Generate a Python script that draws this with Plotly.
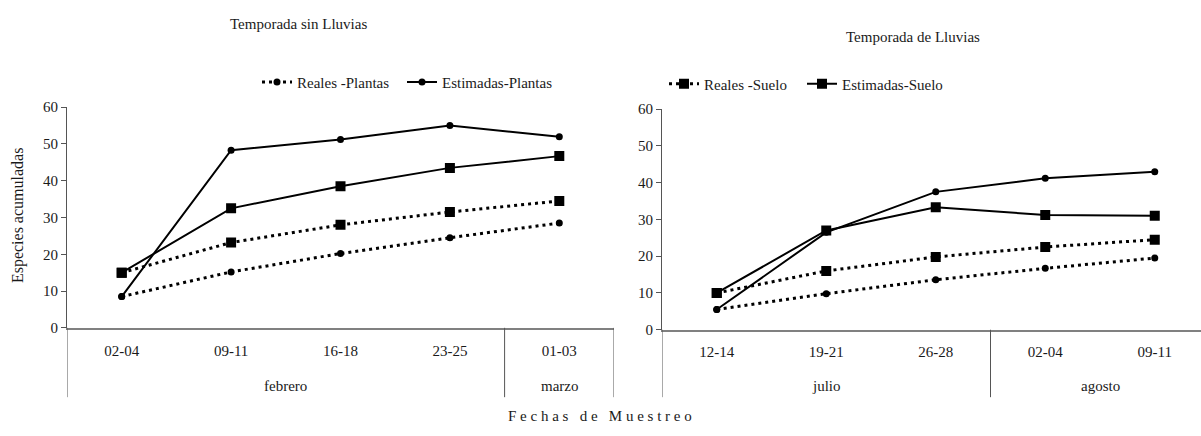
import plotly.graph_objects as go

# ---- data ----
cats_seca = ["02-04", "09-11", "16-18", "23-25", "01-03"]
months_seca = ["febrero", "marzo"]
month_span_seca = [(0, 3), (4, 4)]
cats_lluvia = ["12-14", "19-21", "26-28", "02-04", "09-11"]
months_lluvia = ["julio", "agosto"]
month_span_lluvia = [(0, 2), (3, 4)]

seca_reales_plantas = [8.5, 15.2, 20.2, 24.5, 28.5]
seca_estimadas_plantas = [8.5, 48.3, 51.2, 55.0, 52.0]
seca_reales_suelo = [15.0, 23.2, 28.0, 31.5, 34.5]
seca_estimadas_suelo = [15.0, 32.5, 38.5, 43.5, 46.7]

lluvia_reales_plantas = [5.5, 9.8, 13.6, 16.7, 19.5]
lluvia_estimadas_plantas = [5.5, 26.5, 37.5, 41.2, 43.0]
lluvia_reales_suelo = [10.0, 16.0, 19.8, 22.5, 24.5]
lluvia_estimadas_suelo = [10.0, 27.0, 33.3, 31.2, 31.0]

y_ticks = [0, 10, 20, 30, 40, 50, 60]

W, H = 1201, 436
def py(pix):
    return (H - pix) / H
def px(pix):
    return pix / W

FONT = "Liberation Serif, Times New Roman, serif"
TXT = "#1a1a1a"
fig = go.Figure()

def add_panel(xa, ya, rp, ep, rs, es, legs, show_plantas):
    xs = list(range(5))
    specs = [("Reales -Plantas", rp, "3px,4px", 3, "circle", 7, show_plantas),
             ("Estimadas-Plantas", ep, "solid", 2, "circle", 7, show_plantas),
             ("Reales -Suelo", rs, "3px,4px", 3, "square", 10, not show_plantas),
             ("Estimadas-Suelo", es, "solid", 2, "square", 10, not show_plantas)]
    li = 0
    for name, ys, dash, lw, sym, ms, show in specs:
        leg = legs[li] if show else "legend"
        if show:
            li += 1
        fig.add_trace(go.Scatter(x=xs, y=ys, mode="lines+markers", name=name,
                                 line=dict(color="black", width=lw, dash=dash),
                                 marker=dict(symbol=sym, size=ms, color="black"),
                                 xaxis=xa, yaxis=ya, legend=leg, showlegend=show))

add_panel("x", "y", seca_reales_plantas, seca_estimadas_plantas,
          seca_reales_suelo, seca_estimadas_suelo, ["legend", "legend2"], True)
add_panel("x2", "y2", lluvia_reales_plantas, lluvia_estimadas_plantas,
          lluvia_reales_suelo, lluvia_estimadas_suelo, ["legend3", "legend4"], False)

dom1_y = [py(332), py(103)]
dom2_y = [py(334), py(105)]
tickfont = dict(family=FONT, size=15, color=TXT)

common_x = dict(showgrid=False, zeroline=False, showline=True, linecolor="#808080",
                linewidth=1.5, ticks="", tickfont=tickfont, fixedrange=True,
                ticklabelstandoff=8)
common_y = dict(showgrid=False, zeroline=False, showline=True, linecolor="#555",
                linewidth=1, ticks="outside", ticklen=5, tickcolor="#555",
                tickvals=y_ticks, range=[0, 60], tickfont=tickfont, fixedrange=True)

def leg(xpix, ypix):
    return dict(orientation="h", x=px(xpix), y=py(ypix), xanchor="left", yanchor="middle",
                font=dict(family=FONT, size=15, color=TXT), bgcolor="rgba(0,0,0,0)",
                itemwidth=30)

fig.update_layout(
    width=W, height=H, margin=dict(l=0, r=0, t=0, b=0),
    plot_bgcolor="white", paper_bgcolor="white",
    xaxis=dict(domain=[px(67), px(614)], range=[-0.5, 4.5], tickvals=list(range(5)),
               ticktext=cats_seca, anchor="y", **common_x),
    yaxis=dict(domain=dom1_y, anchor="x", **common_y),
    xaxis2=dict(domain=[px(662), 1.0], range=[-0.5, -0.5 + (W - 662) / 109.5],
                tickvals=list(range(5)), ticktext=cats_lluvia, anchor="y2", **common_x),
    yaxis2=dict(domain=dom2_y, anchor="x2", **common_y),
    legend=leg(257, 77), legend2=leg(402, 77), legend3=leg(664, 79), legend4=leg(802, 79),
    showlegend=True,
)

annotations = [
    dict(text="Temporada sin Lluvias", x=px(298), y=py(17), xref="paper", yref="paper",
         xanchor="center", yanchor="middle",
         showarrow=False, font=dict(family=FONT, size=15, color=TXT)),
    dict(text="Temporada de Lluvias", x=px(913), y=py(30), xref="paper", yref="paper",
         xanchor="center", yanchor="middle",
         showarrow=False, font=dict(family=FONT, size=15, color=TXT)),
    dict(text="Especies acumuladas", x=px(18), y=py(215), xref="paper", yref="paper",
         xanchor="center", yanchor="middle",
         textangle=-90, showarrow=False, font=dict(family=FONT, size=16, color=TXT)),
    dict(text="F e c h a s &nbsp; d e &nbsp; M u e s t r e o", x=px(600), y=py(424),
         xref="paper", yref="paper", xanchor="center", yanchor="middle", showarrow=False,
         font=dict(family=FONT, size=15, color=TXT)),
]
for name, (a, b) in zip(months_seca, month_span_seca):
    annotations.append(dict(text=name, x=(a + b) / 2, xref="x", y=py(392), yref="paper",
                            xanchor="center", yanchor="middle",
                            showarrow=False, font=dict(family=FONT, size=15, color=TXT)))
for name, (a, b) in zip(months_lluvia, month_span_lluvia):
    annotations.append(dict(text=name, x=(a + b) / 2, xref="x2", y=py(392), yref="paper",
                            xanchor="center", yanchor="middle",
                            showarrow=False, font=dict(family=FONT, size=15, color=TXT)))
fig.update_layout(annotations=annotations)

shapes = []
bottom = py(404)
for xv in [-0.5, 4.5]:
    shapes.append(dict(type="line", xref="x", yref="paper", x0=xv, x1=xv,
                       y0=dom1_y[0], y1=bottom, line=dict(color="#555", width=1)))
for (a, b) in month_span_seca[:-1]:
    shapes.append(dict(type="line", xref="x", yref="paper", x0=b + 0.5, x1=b + 0.5,
                       y0=dom1_y[0], y1=bottom, line=dict(color="#555", width=1)))
shapes.append(dict(type="line", xref="x2", yref="paper", x0=-0.5, x1=-0.5,
                   y0=dom2_y[0], y1=bottom, line=dict(color="#555", width=1)))
for (a, b) in month_span_lluvia[:-1]:
    shapes.append(dict(type="line", xref="x2", yref="paper", x0=b + 0.5, x1=b + 0.5,
                       y0=dom2_y[0], y1=bottom, line=dict(color="#555", width=1)))
fig.update_layout(shapes=shapes)

fig.write_html("out.html", config={"displayModeBar": False},
               post_script="document.body.style.margin='0';document.body.style.overflow='hidden';")
